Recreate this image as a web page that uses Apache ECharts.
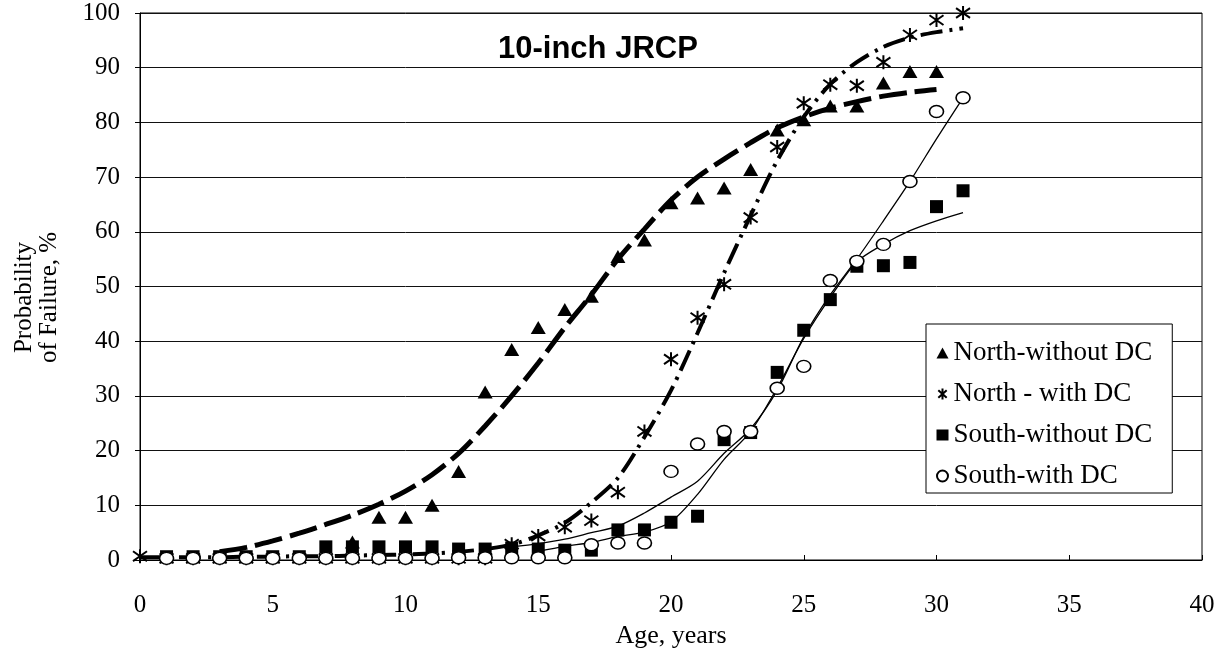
<!DOCTYPE html>
<html>
<head>
<meta charset="utf-8">
<title>10-inch JRCP</title>
<script src="https://cdn.jsdelivr.net/npm/echarts@6/dist/echarts.min.js"></script>
<style>
  html, body { margin: 0; padding: 0; background: #fff; }
  #chart { width: 1229px; height: 648px; }
</style>
</head>
<body>
<div id="chart"></div>
<script>
// ages, years
const ages = [0, 1, 2, 3, 4, 5, 6, 7, 8, 9, 10, 11, 12, 13, 14, 15,
  16, 17, 18, 19, 20, 21, 22, 23, 24, 25, 26, 27, 28, 29, 30, 31]

// observed probability of failure, %
const northWithout = [null, null, null, null, null, null, null, null, 3.3, 7.8, 7.8, 10, 16.2, 30.7, 38.5, 42.5,
  45.8, 48.2, 55.5, 58.5, 65.3, 66.2, 68, 71.4, 78.6, 80.5, 83, 83, 87.2, 89.3, 89.3, null]
const northWith = [0.7, 0.3, 0.3, 0.3, 0.3, 0.3, 0.3, 0.3, 0.3, 0.3, 0.3, 0.3, 0.3, 0.3, 2.9, 4.4,
  6, 7.2, 12.4, 23.5, 36.7, 44.3, 50.4, 62.6, 75.5, 83.5, 86.9, 86.7, 91, 96, 98.7, 100]
const southWithout = [null, 0.6, 0.6, 0.6, 0.6, 0.6, 0.6, 2.4, 2.4, 2.4, 2.4, 2.4, 2, 2, 2.2, 2,
  1.8, 1.8, 5.5, 5.5, 6.9, 8, 22, 23.3, 34.3, 42, 47.6, 53.7, 53.8, 54.4, 64.6, 67.5]
const southWith = [null, 0.3, 0.3, 0.3, 0.3, 0.3, 0.3, 0.3, 0.3, 0.3, 0.3, 0.3, 0.4, 0.4, 0.4, 0.4,
  0.4, 2.8, 3.1, 3.1, 16.2, 21.2, 23.5, 23.5, 31.4, 35.4, 51.1, 54.6, 57.7, 69.2, 82, 84.5]

// fitted curves, %
const northWithoutFit = [null, null, null, 1.5, 2.3, 3.5, 4.9, 6.5, 8.2, 10.2, 12.6, 15.6, 19.5, 24.5, 30, 36,
  42.5, 48.5, 55, 60.5, 65.8, 70, 73.3, 76.3, 79, 81, 82.6, 83.8, 84.8, 85.5, 86, null]
const northWithFit = [0.5, 0.5, 0.5, 0.5, 0.6, 0.6, 0.7, 0.7, 0.8, 0.9, 1, 1.2, 1.5, 2, 2.8, 4.5,
  6.8, 10.5, 15, 22.5, 31, 41.5, 52.5, 63, 73, 81, 87, 91, 93.8, 95.5, 96.5, 97.2]
const southWithoutFit = [null, null, null, null, null, null, null, null, null, null, null, null, null, null, null, 1.6,
  2.5, 3.2, 4.3, 5.1, 7, 12, 18.4, 23.5, 31.5, 40.5, 48, 54.5, 57.7, 60.2, 62, 63.5]
const southWithFit = [null, null, null, null, null, null, null, null, null, null, null, null, null, null, 2.4, 3,
  3.8, 5, 6.2, 8.6, 11.5, 14.4, 19.5, 24, 31, 40.8, 48.5, 55, 62, 69.2, 77, 84.5]

const seriesNames = ['North-without DC', 'North - with DC', 'South-without DC', 'South-with DC']

const pairs = (vals) => ages.map((a, i) => [a, vals[i]]).filter((p) => p[1] !== null)

const serif = '"Liberation Serif", "Times New Roman", serif'
const asterisk = 'path://M5,0L5,10M1.2,1.5L8.8,8.5M1.2,8.5L8.8,1.5'

const chart = echarts.init(document.getElementById('chart'))

const fitLine = (vals, width, type) => ({
  type: 'line',
  data: pairs(vals),
  smooth: 0.3,
  symbol: 'none',
  silent: true,
  z: 2,
  lineStyle: { color: '#000', width: width, type: type },
})

chart.setOption({
  animation: false,
  title: {
    text: '10-inch JRCP',
    left: 498,
    top: 34,
    padding: 0,
    textStyle: { fontFamily: '"Liberation Sans", Arial, sans-serif', fontWeight: 'bold', fontSize: 31, color: '#000' },
  },
  grid: {
    left: 140,
    right: 27,
    top: 13,
    bottom: 88,
    outerBoundsMode: 'none',
    show: true,
    borderColor: '#000',
    borderWidth: 1,
  },
  legend: {
    orient: 'vertical',
    left: 926,
    top: 324,
    padding: [14, 20, 2, 10],
    itemGap: 11,
    itemWidth: 12,
    itemHeight: 11,
    backgroundColor: '#fff',
    borderColor: '#000',
    borderWidth: 1,
    textStyle: { fontFamily: serif, fontSize: 27, lineHeight: 30, color: '#000' },
    data: [
      { name: seriesNames[0], icon: 'triangle' },
      { name: seriesNames[1], icon: asterisk },
      { name: seriesNames[2], icon: 'rect' },
      { name: seriesNames[3], icon: 'circle' },
    ],
  },
  xAxis: {
    type: 'value',
    min: 0,
    max: 40,
    interval: 5,
    name: 'Age, years',
    nameLocation: 'middle',
    nameGap: 61,
    nameTextStyle: { fontFamily: serif, fontSize: 26, color: '#000' },
    axisLine: { lineStyle: { color: '#000', width: 1 } },
    axisTick: { inside: true, length: 5, lineStyle: { color: '#000' } },
    axisLabel: { fontFamily: serif, fontSize: 25, color: '#000', margin: 33 },
    splitLine: { show: false },
  },
  yAxis: {
    type: 'value',
    min: 0,
    max: 100,
    interval: 10,
    name: 'Probability\nof Failure, %',
    nameLocation: 'middle',
    nameGap: 78,
    nameTextStyle: { fontFamily: serif, fontSize: 25, lineHeight: 25, color: '#000', align: 'center', padding: [0, 22, 0, 0] },
    axisLine: { lineStyle: { color: '#000', width: 1 } },
    axisTick: { length: 5, lineStyle: { color: '#000' } },
    axisLabel: { fontFamily: serif, fontSize: 25, color: '#000', margin: 20 },
    splitLine: { lineStyle: { color: '#111', width: 1 } },
  },
  series: [
    fitLine(northWithoutFit, 5, [28, 8]),
    fitLine(northWithFit, 4, [22, 7, 3, 7]),
    fitLine(southWithoutFit, 1.3, 'solid'),
    fitLine(southWithFit, 1.3, 'solid'),
    {
      name: seriesNames[0],
      type: 'scatter',
      data: pairs(northWithout),
      symbol: 'triangle',
      symbolSize: [15, 13],
      z: 3,
      itemStyle: { color: '#000', opacity: 1 },
    },
    {
      name: seriesNames[1],
      type: 'scatter',
      data: pairs(northWith),
      symbol: asterisk,
      symbolSize: 14,
      z: 3,
      itemStyle: { color: '#000', borderColor: '#000', borderWidth: 2, opacity: 1 },
    },
    {
      name: seriesNames[2],
      type: 'scatter',
      data: pairs(southWithout),
      symbol: 'rect',
      symbolSize: 13,
      z: 3,
      itemStyle: { color: '#000', opacity: 1 },
    },
    {
      name: seriesNames[3],
      type: 'scatter',
      data: pairs(southWith),
      symbol: 'circle',
      symbolSize: [14, 12],
      z: 3,
      itemStyle: { color: '#fff', borderColor: '#000', borderWidth: 1.5, opacity: 1 },
    },
  ],
})
</script>
</body>
</html>
